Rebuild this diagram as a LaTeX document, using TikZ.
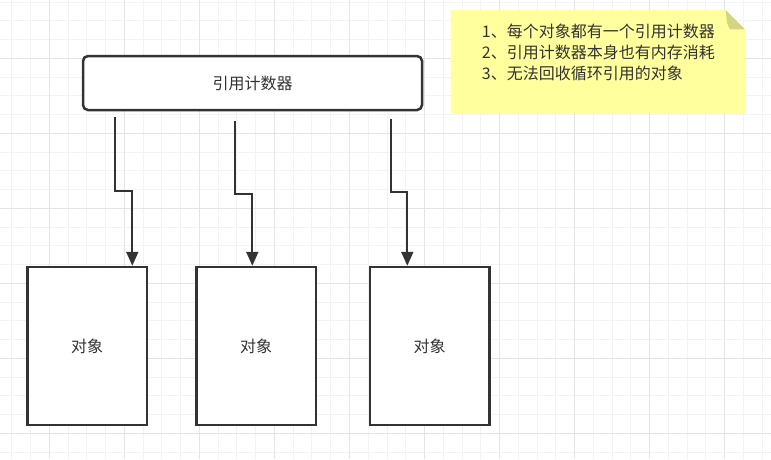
\documentclass[tikz,border=0pt]{standalone}
\usepackage{fontspec}
\setmainfont{Noto Sans CJK SC}
\usetikzlibrary{arrows.meta}
\definecolor{ink}{HTML}{333333}
\definecolor{gridminor}{HTML}{F3F3F3}
\definecolor{gridmajor}{HTML}{E4E4E4}
\definecolor{notefill}{HTML}{FFFF9E}
\definecolor{notefold}{HTML}{D4D484}
\tikzset{
  minorgrid/.style={draw=gridminor, line width=1pt},
  majorgrid/.style={draw=gridmajor, line width=1pt},
  counterbox/.style={draw=ink, fill=white, line width=2.5pt, rounded corners=5pt,
    minimum width=339pt, minimum height=54pt, inner sep=0pt, text=ink,
    font=\fontsize{16pt}{19pt}\selectfont},
  objbox/.style={draw=ink, fill=white, line width=2.5pt,
    minimum width=119.5pt, minimum height=158pt, inner sep=0pt, text=ink,
    font=\fontsize{16pt}{19pt}\selectfont},
  refarrow/.style={draw=ink, line width=2pt, -{Triangle[length=14pt,width=12pt]}},
  notetext/.style={text=ink, align=left, inner sep=0pt, anchor=west,
    font=\fontsize{16pt}{21pt}\selectfont},
}
\begin{document}
\begin{tikzpicture}[x=1pt,y=-1pt]
\useasboundingbox (0,0) rectangle (771,459);
\fill[white] (0,0) rectangle (771,459);
% grid
\foreach \k in {0,...,40} { \draw[minorgrid] ({11.8+18.76*\k},0) -- ({11.8+18.76*\k},459); }
\foreach \k in {0,...,24} { \draw[minorgrid] (0,{2.0+18.76*\k}) -- (771,{2.0+18.76*\k}); }
\foreach \k in {0,...,9} { \draw[majorgrid] ({49.3+75.04*\k},0) -- ({49.3+75.04*\k},459); }
\foreach \k in {0,...,5} { \draw[majorgrid] (0,{58.3+75.04*\k}) -- (771,{58.3+75.04*\k}); }

% note
\fill[notefill] (450.7,10) -- (725.7,10) -- (745,29.3) -- (745,113.3) -- (450.7,113.3) -- cycle;
\fill[notefold] (725.7,10) -- (745,29.3) -- (730,29.3) .. controls (727,24) .. (725.7,10) -- cycle;
\node[notetext] (note) at (481.7,52.3) {1、每个对象都有一个引用计数器\\2、引用计数器本身也有内存消耗\\3、无法回收循环引用的对象};

% counter
\node[counterbox] (counter) at (252.5,83) {引用计数器};

% objects
\node[objbox] (obj1) at (87,346) {对象};
\node[objbox] (obj2) at (256.2,346) {对象};
\node[objbox] (obj3) at (429.7,346) {对象};

% arrows
\coordinate (s1) at (115.3,117.3);
\coordinate (m1) at (132.3,191);
\coordinate (s2) at (235.3,120.7);
\coordinate (m2) at (252.3,194);
\coordinate (s3) at (390.7,118.7);
\coordinate (m3) at (407.3,192.3);
\draw[refarrow] (s1) |- (m1) -- (m1 |- obj1.north);
\draw[refarrow] (s2) |- (m2) -- (m2 |- obj2.north);
\draw[refarrow] (s3) |- (m3) -- (m3 |- obj3.north);
\end{tikzpicture}
\end{document}
